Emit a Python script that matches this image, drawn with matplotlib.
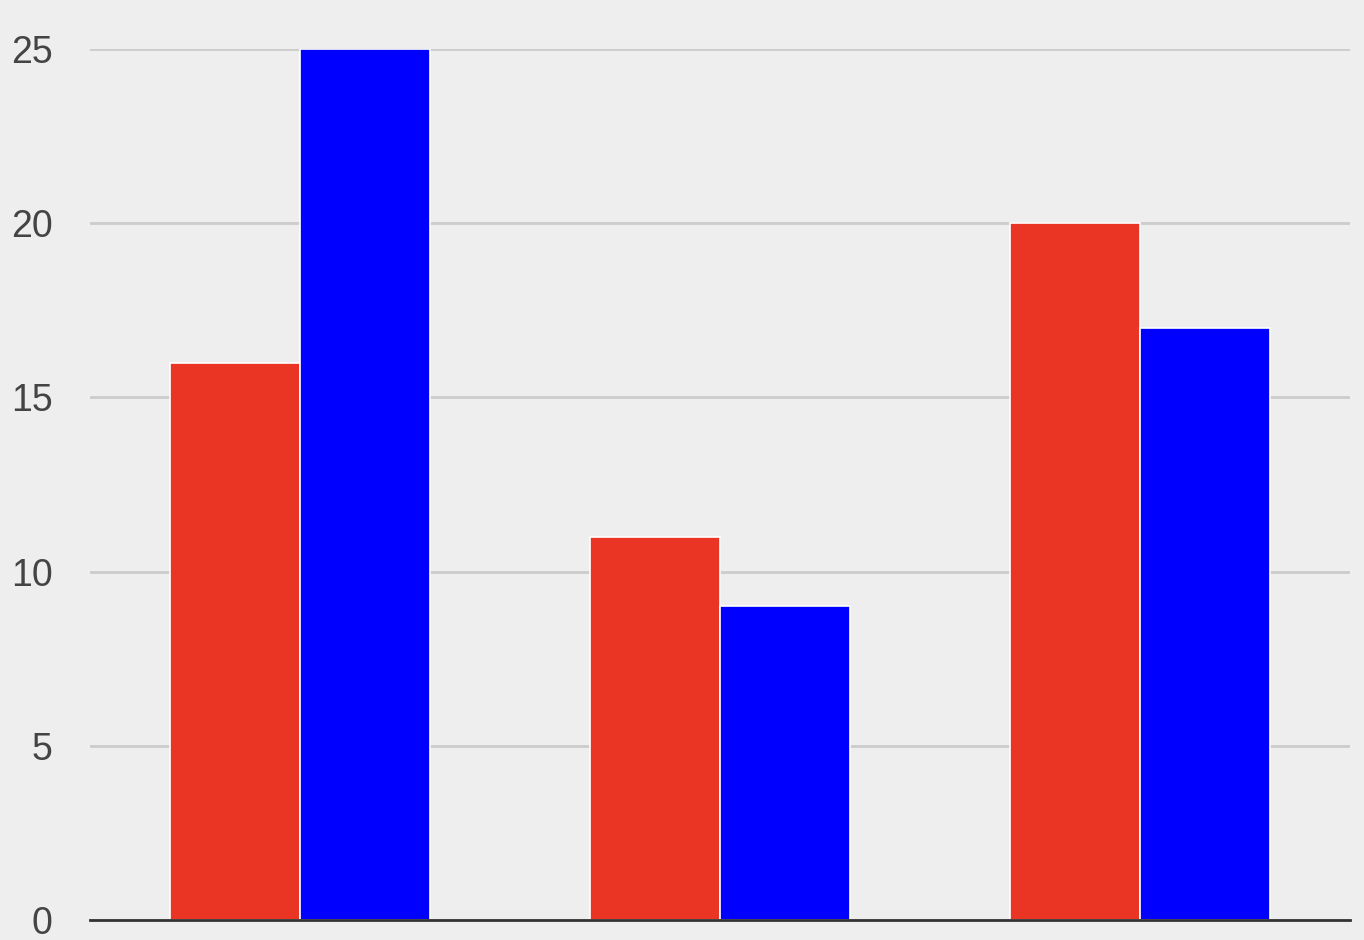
import numpy as np
import matplotlib
matplotlib.use("Agg")
import matplotlib.pyplot as plt

plt.rcParams['font.family'] = ['Liberation Sans', 'DejaVu Sans']

# data
categories = ["A", "B", "C"]
red_values = [16, 11, 20]
blue_values = [25, 9, 17]
y_ticks = [0, 5, 10, 15, 20, 25]

fig = plt.figure(figsize=(13.64, 9.40), dpi=100)
fig.patch.set_facecolor('#eeeeee')
ax = fig.add_axes([90 / 1364, 1 - 920 / 940, 1260 / 1364, 871 / 940])
ax.set_facecolor('#eeeeee')

x = np.arange(len(categories))
w = 0.31
ax.bar(x - w / 2, red_values, w, color='#ea3424', edgecolor='white', linewidth=1.2, zorder=3)
ax.bar(x + w / 2, blue_values, w, color='#0000ff', edgecolor='white', linewidth=1.2, zorder=3)

ax.set_xlim(-0.5, 2.5)
ax.set_ylim(0, 25)
ax.set_yticks(y_ticks)
ax.set_xticks([])
ax.yaxis.grid(True, color='#cccccc', linewidth=2, zorder=0)
ax.tick_params(axis='y', length=0, pad=27, labelsize=27, labelcolor='#444444')

for s in ['top', 'right', 'left']:
    ax.spines[s].set_visible(False)
ax.spines['bottom'].set_color('#333333')
ax.spines['bottom'].set_linewidth(2)
ax.spines['bottom'].set_zorder(4)

fig.savefig('out.png', dpi=100, facecolor=fig.get_facecolor())
